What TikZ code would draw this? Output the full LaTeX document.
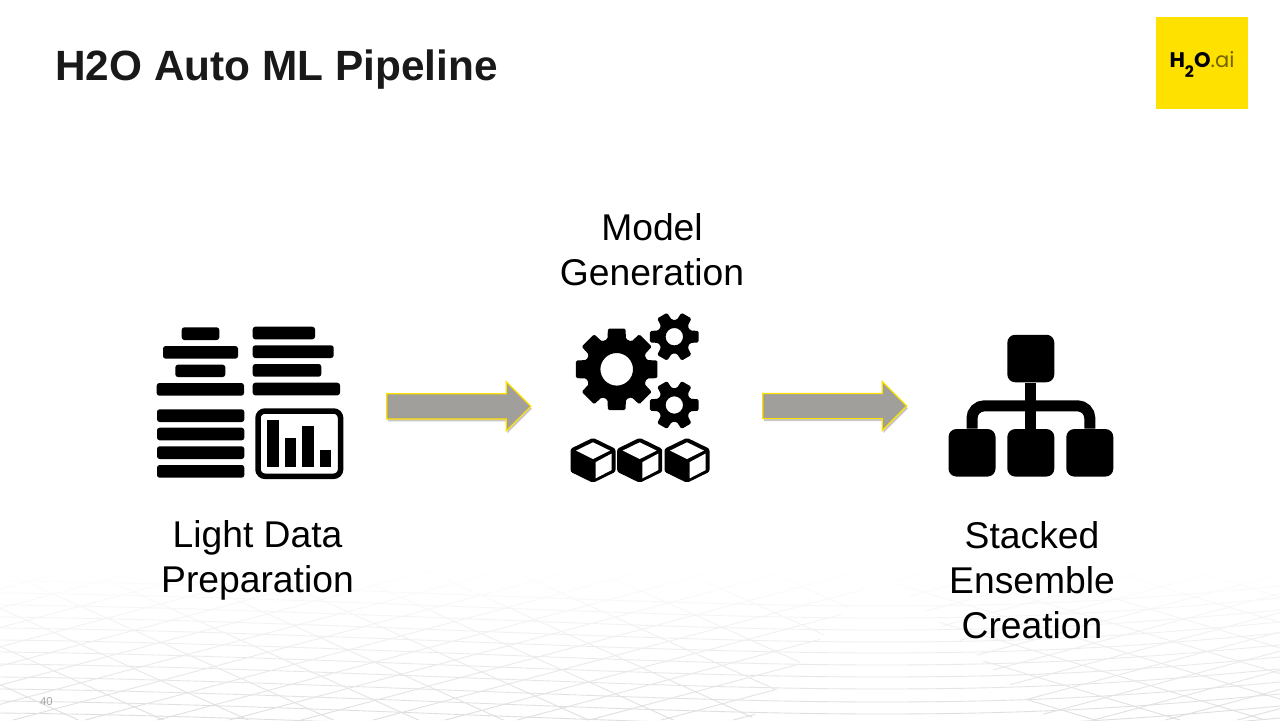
\documentclass[tikz,border=0pt]{standalone}
\usepackage{fontspec}
\setmainfont{Liberation Sans}
\newfontfamily\logofont{Poppins}
\usetikzlibrary{shapes.arrows,fadings,shadows,calc}
\definecolor{logoyellow}{HTML}{FFE100}
\definecolor{arrowgray}{HTML}{A09F9B}
\definecolor{meshgray}{HTML}{DEDEDE}
\tikzset{
  caption/.style={align=center,font=\fontsize{21.2}{25.6}\selectfont,text=black},
  bar/.style={fill=black,rounded corners=1.5},
  leaf/.style={draw=none,fill=black,rounded corners=4.5,minimum width=47*0.02cm,minimum height=47.5*0.02cm,inner sep=0},
  blockarrow/.style={single arrow,draw=logoyellow,fill=arrowgray,line width=0.7pt,inner sep=0,
    minimum width=48*0.02cm,minimum height=144*0.02cm,single arrow head extend=12*0.02cm,single arrow head indent=0,
    drop shadow={shadow xshift=0.6pt,shadow yshift=-1.4pt,opacity=0.22,fill=black}},
  wire/.style={line width=11*0.02cm,rounded corners=7},
  meshline/.style={meshgray,line width=0.5pt},
}
% gear: centre, outer radius, root radius, hole radius, teeth, tooth top, tooth base
\newcommand{\gearicon}[7]{%
  \pgfmathsetmacro{\st}{360/#5}
  \fill[black,even odd rule,rounded corners=0.8] 
    \foreach \t in {1,...,#5}{
      \ifnum\t=1 ($(#1)+({(\t-1)*\st-\st*#7}:#3)$) \else -- ($(#1)+({(\t-1)*\st-\st*#7}:#3)$) \fi
      -- ($(#1)+({(\t-1)*\st-\st*#6}:#2)$)
      -- ($(#1)+({(\t-1)*\st+\st*#6}:#2)$)
      -- ($(#1)+({(\t-1)*\st+\st*#7}:#3)$)
    } -- cycle (#1) circle (#4);
}
% cube: centre
\newcommand{\cubeicon}[1]{%
  \begin{scope}[shift={(#1)}]
    \fill[black,rounded corners=1.2] (0,-22.5) -- (22.5,-11.5) -- (22.5,11.5) -- (0,22.5) -- (-22.5,11.5) -- (-22.5,-11.5) -- cycle;
    \fill[white] (0,-18) -- (17,-9.7) -- (0,-1.3) -- (-17,-9.7) -- cycle;
    \fill[white] (2.7,1.8) -- (18.7,-6.8) -- (18.7,9.7) -- (2.7,18) -- cycle;
  \end{scope}
}
\begin{document}
\begin{tikzpicture}[x=0.02cm,y=-0.02cm]
\useasboundingbox (0,0) rectangle (1280,720);
\fill[white] (0,0) rectangle (1280,720);
% mesh
\begin{scope}
\clip (0,570) -- (880,570) -- (750,720) -- (0,720) -- cycle;
\foreach \i in {-8,...,12}
  \draw[meshline] (\i*85,570) -- ++(500,225);
\foreach \i in {-2,...,24}
  \draw[meshline] (\i*72,570) -- ++(-600,160);
\end{scope}
\begin{scope}
\clip (880,570) -- (1280,570) -- (1280,720) -- (1050,720) -- cycle;
\foreach \i in {4,...,16}
  \draw[meshline] (\i*85,570) -- ++(500,150);
\foreach \i in {12,...,26}
  \draw[meshline] (\i*72,570) -- ++(-600,160);
\end{scope}
\foreach \yy in {606,618,630,642,653,665,677,689,702,714,726,738}
  \draw[meshline] (0,\yy-25) .. controls (300,\yy-22) and (640,\yy) .. (880,\yy) .. controls (1050,\yy) and (1150,\yy-8) .. (1280,\yy-20);
\fill[white,path fading=south] (0,569) rectangle (1280,721);
% title and logo
\node[anchor=base west,inner sep=0,font=\fontsize{24.1}{28}\selectfont\bfseries,text=black!90] (title) at (55,80) {H2O Auto ML Pipeline};
\node[fill=logoyellow,minimum size=92*0.02cm,inner sep=0] (logo) at (1202,63) {};
\node[anchor=base,inner sep=0,font=\logofont\fontsize{12}{14}\selectfont] (logotext) at (1202,67) {\textbf{H\raisebox{-0.52em}{\fontsize{9}{9}\selectfont 2}O}\textcolor{black!55!logoyellow}{.ai}};
% light data preparation
\foreach \xa/\xb/\ya/\yb in {181.7/219.3/327.3/340,163/238/346/358.7,175.3/225.3/364.7/377,156.7/244/383/395.7,
  252.7/315/326.7/339.3,252.7/333.7/345.3/358,252.7/321.3/364/376.7,252.7/340/382.7/395.3,
  157/244.3/409.3/422,157/244.3/427.7/440.3,157/244.3/446.3/459,157/244.3/465/477.7}
  \fill[bar] (\xa,\ya) rectangle (\xb,\yb);
\draw[black,line width=5.5*0.02cm,rounded corners=4] (258,411) rectangle (340.6,476.3);
\foreach \xa/\ya in {267/420.3,284.7/437.7,302.3/426.3,319.7/449.7}
  \fill[black] (\xa,\ya) rectangle (\xa+11.7,467);
\node[caption] (prep) at (257.5,560.5) {Light Data\\Preparation};
% model generation
\node[caption] (model) at (652,250) {Model\\Generation};
\gearicon{616.7,369.3}{41.7}{31.5}{16.3}{8}{0.27}{0.38}
\gearicon{674.3,336.7}{25}{17}{8.7}{6}{0.22}{0.36}
\gearicon{674.3,405}{25}{17}{8.7}{6}{0.22}{0.36}
\cubeicon{593,460.3}
\cubeicon{639.7,460.3}
\cubeicon{687,460.3}
% stacked ensemble
\node[leaf] (topbox) at (1030.8,358.5) {};
\node[leaf] (leftbox) at (972,452.8) {};
\node[leaf] (midbox) at (1030.8,452.8) {};
\node[leaf] (rightbox) at (1089.8,452.8) {};
\coordinate (hub) at (1030.8,405.8);
\draw[wire] (leftbox) |- (hub) -| (rightbox);
\draw[wire] (topbox) -- (midbox);
\node[caption] (stack) at (1032,580) {Stacked\\Ensemble\\Creation};
% arrows
\node[blockarrow] (arrowa) at (452.5,406.3) {\rule{0pt}{0.48cm}};
\node[blockarrow] (arrowb) at (828.5,406) {\rule{0pt}{0.48cm}};
\node[anchor=base,inner sep=0,font=\fontsize{6.5}{8}\selectfont,text=black!35] (pagenum) at (46.5,705) {40};
\end{tikzpicture}
\end{document}
